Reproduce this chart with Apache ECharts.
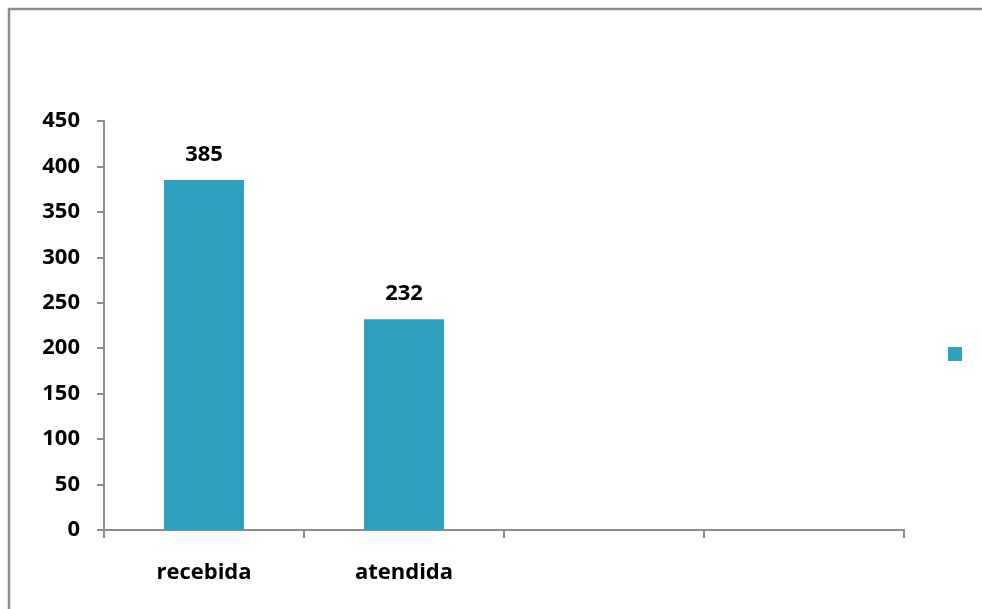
<!DOCTYPE html>
<html><head><meta charset="utf-8">
<script src="https://cdn.jsdelivr.net/npm/echarts@6/dist/echarts.min.js"></script>
<style>html,body{margin:0;padding:0;background:#fff}#c{width:982px;height:609px}</style>
</head><body><div id="c"></div>
<script>
const categories = ['recebida', 'atendida', '', ''];
const values = [385, 232, null, null];
const yTicks = [0, 50, 100, 150, 200, 250, 300, 350, 400, 450];

const chart = echarts.init(document.getElementById('c'));
const font = 'Open Sans';
chart.setOption({
  animation: false,
  backgroundColor: '#fff',
  graphic: [{
    type: 'rect', shape: {x: 9, y: 9, width: 1100, height: 800},
    style: {fill: 'none', stroke: '#8c8c8c', lineWidth: 2.5}
  }],
  grid: {left: 104, top: 121, width: 800, height: 409},
  legend: {
    data: [' '], left: 943, top: 342, itemWidth: 14, itemHeight: 14, icon: 'rect',
    textStyle: {fontSize: 1}
  },
  xAxis: {
    type: 'category', data: categories,
    axisLine: {lineStyle: {color: '#8c8c8c', width: 2}},
    axisTick: {show: true, length: 8, lineStyle: {color: '#8c8c8c', width: 2}},
    axisLabel: {color: '#000', fontFamily: font, fontWeight: 'bold', fontSize: 22, margin: 32}
  },
  yAxis: {
    type: 'value', min: 0, max: yTicks[yTicks.length - 1], interval: 50,
    axisLine: {show: true, lineStyle: {color: '#8c8c8c', width: 2}},
    axisTick: {show: true, length: 7, lineStyle: {color: '#8c8c8c', width: 2}},
    splitLine: {show: false},
    axisLabel: {color: '#000', fontFamily: font, fontWeight: 'bold', fontSize: 22, margin: 24}
  },
  series: [{
    name: ' ', type: 'bar', data: values, barWidth: 80,
    itemStyle: {color: '#2ea3c0'},
    label: {show: true, position: 'top', distance: 14, color: '#000', fontFamily: font, fontWeight: 'bold', fontSize: 22}
  }]
});
</script></body></html>
